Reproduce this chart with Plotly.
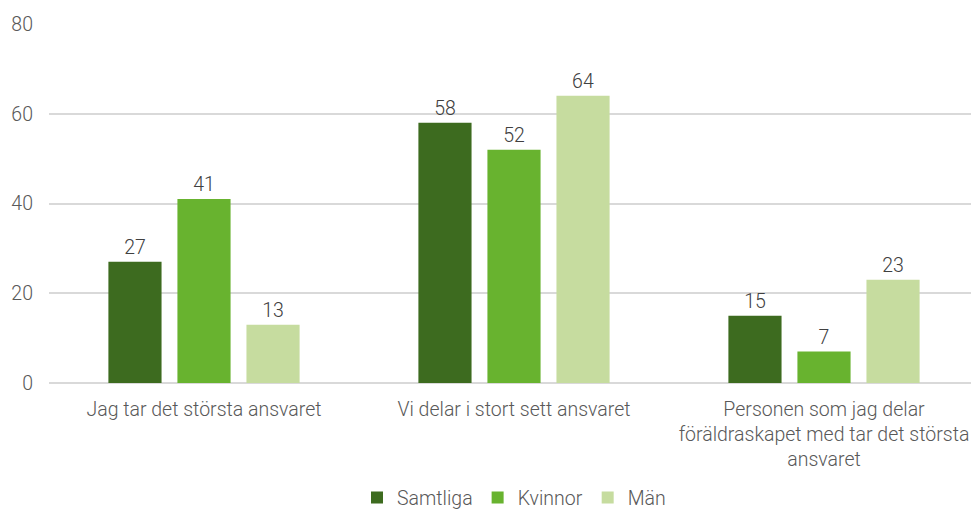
import plotly.graph_objects as go

categories = [
    "Jag tar det största ansvaret",
    "Vi delar i stort sett ansvaret",
    "Personen som jag delar<br>föräldraskapet med tar det största<br>ansvaret",
]
series_names = ["Samtliga", "Kvinnor", "Män"]
samtliga = [27, 58, 15]
kvinnor = [41, 52, 7]
man = [13, 64, 23]
colors = ["#3d6b1f", "#68b32f", "#c6dc9f"]
y_ticks = [0, 20, 40, 60, 80]

FONT = "Roboto Light, Roboto"
FS = 19.5
fig = go.Figure()
for name, vals, col in zip(series_names, [samtliga, kvinnor, man], colors):
    fig.add_trace(go.Bar(
        name=name, x=categories, y=vals,
        marker=dict(color=col, line=dict(width=0)),
        text=[str(v) for v in vals], textposition="outside",
        textfont=dict(family=FONT, size=FS, color="#404040", weight=300),
        cliponaxis=False,
    ))

fig.update_layout(
    width=971, height=501,
    margin=dict(l=41, r=0, t=16, b=126, autoexpand=False),
    paper_bgcolor="white", plot_bgcolor="white",
    barmode="group", bargap=0.332, bargroupgap=0.23,
    font=dict(family=FONT, size=FS, color="#595959", weight=300),
    showlegend=True,
    legend=dict(orientation="h", x=0.5, xanchor="center", y=-0.32, yanchor="middle",
                font=dict(family=FONT, size=FS, color="#595959", weight=300),
                itemwidth=30, traceorder="normal"),
    xaxis=dict(showgrid=False, showline=False, ticks="", automargin=False,
               ticklabelstandoff=12,
               tickfont=dict(family=FONT, size=FS, color="#595959", weight=300)),
    yaxis=dict(range=[0, 80], tickvals=y_ticks, showgrid=True, gridcolor="#d9d9d9",
               gridwidth=1.5, zeroline=True, zerolinecolor="#d9d9d9", zerolinewidth=1.5,
               showline=False, ticks="", ticklabelstandoff=15, automargin=False,
               tickfont=dict(family=FONT, size=FS, color="#595959", weight=300)),
)
fig.write_html("out.html")
